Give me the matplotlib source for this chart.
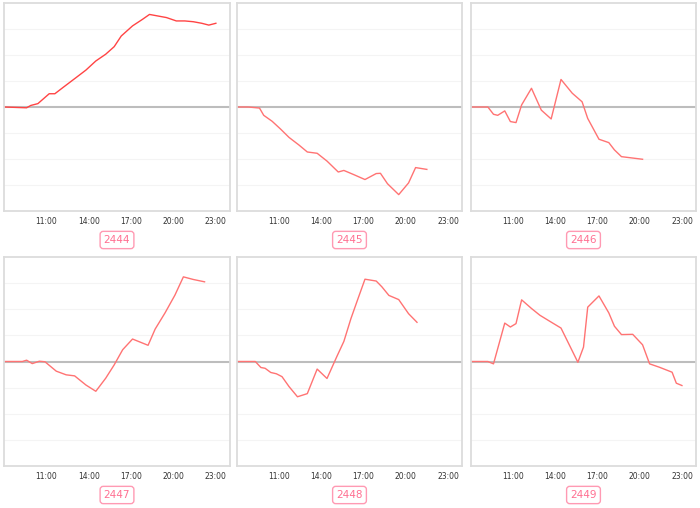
import numpy as np
import matplotlib.pyplot as plt

# facet labels
labels = ['2444', '2445', '2446', '2447', '2448', '2449']

# hours of day and values per facet
h2444 = [8.0, 9.6, 9.9, 10.4, 11.2, 11.6, 12.2, 13.1, 13.8, 14.5, 15.2, 15.8, 16.3, 17.1, 17.8, 18.3, 18.8, 19.5, 20.2, 20.8, 21.4, 22.0, 22.5, 23.0]
v2444 = [0, -0.03, 0.06, 0.13, 0.51, 0.51, 0.76, 1.13, 1.42, 1.77, 2.03, 2.32, 2.73, 3.12, 3.37, 3.56, 3.51, 3.44, 3.31, 3.31, 3.28, 3.22, 3.15, 3.22]

h2445 = [8.0, 8.8, 9.6, 9.9, 10.5, 11.1, 11.7, 12.4, 13.0, 13.7, 14.4, 15.2, 15.6, 16.3, 17.1, 17.9, 18.2, 18.7, 19.5, 20.2, 20.7, 21.5]
v2445 = [0, 0, -0.04, -0.32, -0.55, -0.85, -1.17, -1.46, -1.73, -1.78, -2.08, -2.5, -2.44, -2.6, -2.79, -2.56, -2.55, -2.95, -3.37, -2.92, -2.33, -2.4]

h2446 = [8.0, 9.2, 9.6, 9.9, 10.4, 10.8, 11.2, 11.6, 12.3, 13.0, 13.7, 14.4, 15.2, 15.9, 16.3, 17.1, 17.8, 18.2, 18.7, 20.2]
v2446 = [0, 0, -0.28, -0.32, -0.15, -0.56, -0.6, 0.08, 0.72, -0.12, -0.46, 1.06, 0.53, 0.2, -0.44, -1.24, -1.37, -1.65, -1.91, -2.01]

h2447 = [8.0, 9.3, 9.6, 10.0, 10.5, 10.9, 11.7, 12.4, 13.0, 13.8, 14.5, 15.2, 15.8, 16.4, 17.1, 18.2, 18.7, 19.4, 20.1, 20.7, 21.4, 22.2]
v2447 = [0, 0, 0.05, -0.08, 0.01, -0.01, -0.37, -0.51, -0.55, -0.9, -1.14, -0.64, -0.13, 0.45, 0.86, 0.62, 1.24, 1.86, 2.54, 3.24, 3.14, 3.05]

h2448 = [8.0, 9.3, 9.7, 10.0, 10.4, 10.8, 11.2, 11.7, 12.3, 13.0, 13.7, 14.4, 15.1, 15.6, 16.1, 16.6, 17.1, 17.9, 18.3, 18.8, 19.5, 20.2, 20.8]
v2448 = [0, 0, -0.23, -0.26, -0.42, -0.47, -0.58, -0.96, -1.35, -1.23, -0.29, -0.65, 0.19, 0.77, 1.64, 2.4, 3.15, 3.08, 2.86, 2.53, 2.37, 1.83, 1.5]

h2449 = [8.0, 9.2, 9.6, 10.4, 10.8, 11.2, 11.6, 12.3, 12.9, 13.6, 14.4, 15.6, 16.0, 16.3, 17.1, 17.8, 18.2, 18.7, 19.5, 20.2, 20.7, 21.4, 22.3, 22.6, 23.0]
v2449 = [0, 0, -0.09, 1.47, 1.32, 1.45, 2.36, 2.03, 1.77, 1.54, 1.28, -0.03, 0.55, 2.08, 2.51, 1.86, 1.35, 1.03, 1.04, 0.64, -0.09, -0.22, -0.41, -0.83, -0.92]

hours = [h2444, h2445, h2446, h2447, h2448, h2449]
values = [v2444, v2445, v2446, v2447, v2448, v2449]
colors = ['#ff4444', '#ff7373', '#ff7373', '#ff7373', '#ff7373', '#ff7373']

tick_hours = [11, 14, 17, 20, 23]
tick_labels = ['11:00', '14:00', '17:00', '20:00', '23:00']

W, H = 700, 508
fig = plt.figure(figsize=(7, 5.08), dpi=100)

cols = [(4, 230), (237, 462), (471, 696)]
rows = [(3, 211), (257, 466)]
label_y = [240, 495]

for i in range(6):
    r, c = divmod(i, 3)
    x0, x1 = cols[c]
    y0, y1 = rows[r]
    ax = fig.add_axes([x0 / W, 1 - y1 / H, (x1 - x0) / W, (y1 - y0) / H])
    for y in [-3, -2, -1, 1, 2, 3]:
        ax.axhline(y, color='#f4f4f4', lw=0.8, zorder=0)
    ax.axhline(0, color='#bdbdbd', lw=1.5, zorder=1)
    ax.plot(hours[i], values[i], color=colors[i], lw=1.0, zorder=2)
    ax.set_xlim(8, 24)
    ax.set_ylim(-4, 4)
    ax.set_xticks(tick_hours)
    ax.set_xticklabels(tick_labels, fontsize=5.5, color='#333333')
    ax.set_yticks([])
    ax.tick_params(axis='x', length=0, pad=4)
    for s in ax.spines.values():
        s.set_color('#dcdcdc')
        s.set_linewidth(1.3)
    fig.text((x0 + x1) / 2 / W, 1 - label_y[r] / H, labels[i], ha='center', va='center',
             fontsize=7.5, color='#ff6f91',
             bbox=dict(boxstyle='round,pad=0.35,rounding_size=0.3', fc='white', ec='#ff9ab3', lw=1))

fig.savefig('out.png', dpi=100)
